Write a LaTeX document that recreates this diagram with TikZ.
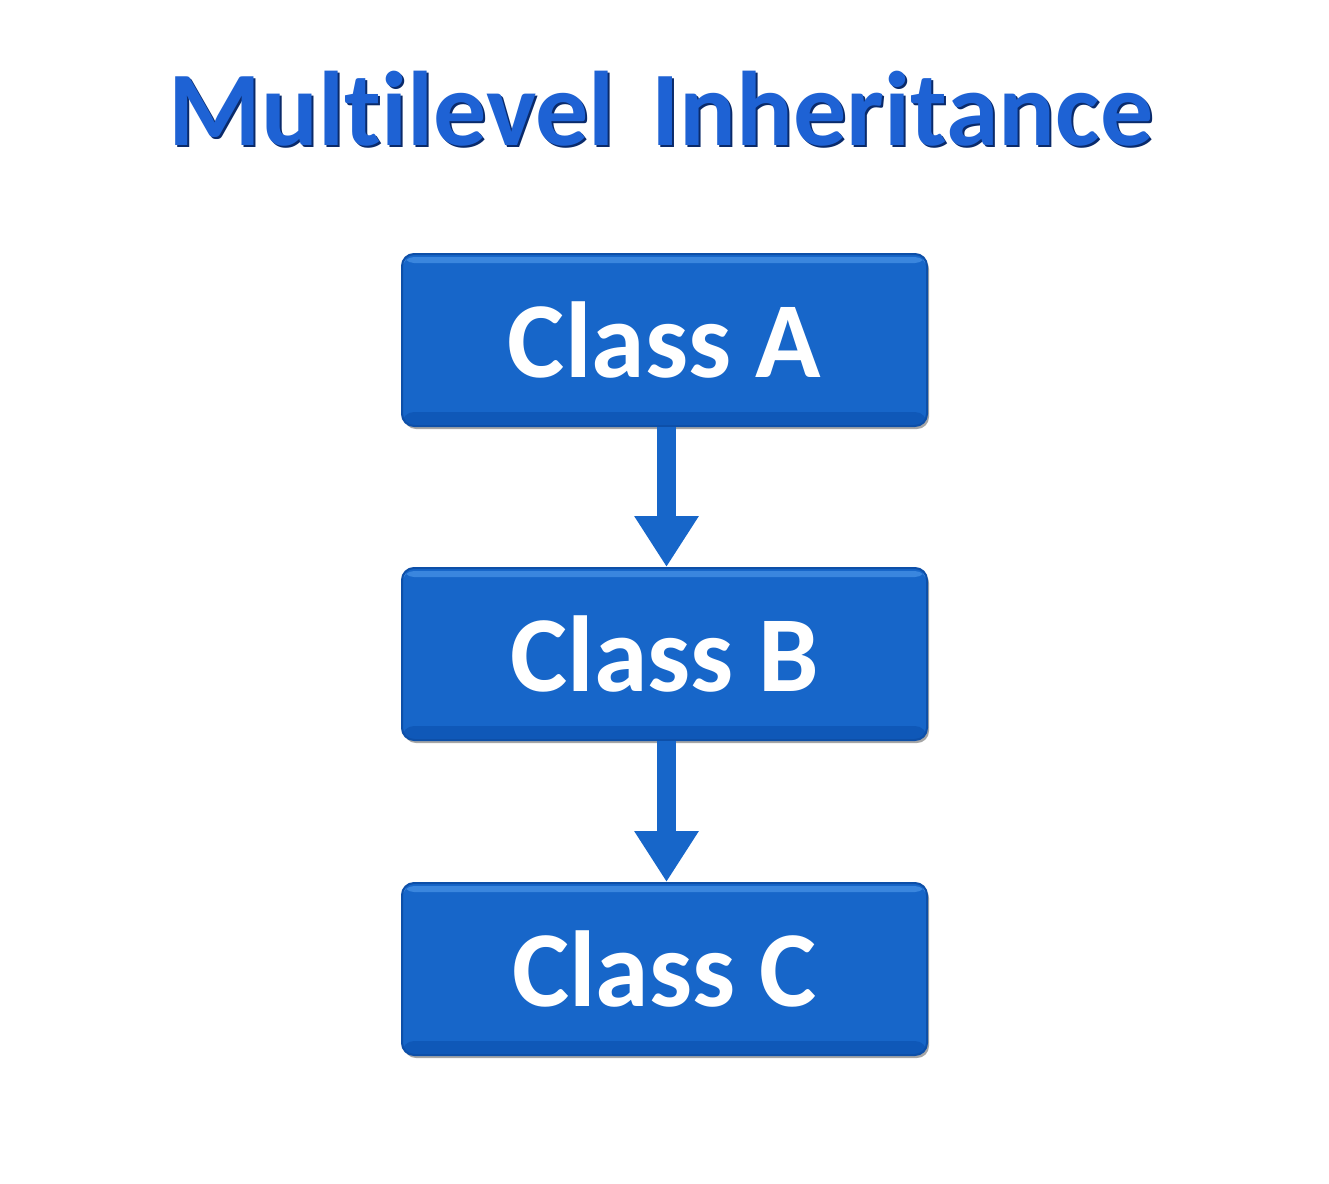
\documentclass[tikz,border=0pt]{standalone}
\usepackage{fontspec}
\setmainfont[Ligatures=NoCommon]{Carlito}
\usetikzlibrary{arrows.meta,shadows}
\definecolor{boxfill}{HTML}{1766C9}
\definecolor{boxdark}{HTML}{0D4FA8}
\definecolor{boxband}{HTML}{0F58B8}
\definecolor{boxlight}{HTML}{3A86DE}
\definecolor{titleblue}{HTML}{1E62D4}
\definecolor{titledark}{HTML}{0A2A6A}
\tikzset{
  classbox/.style={rounded corners=12pt, fill=boxfill, draw=boxdark, line width=2pt,
    minimum width=525pt, minimum height=172pt, inner sep=0pt,
    text=white, font=\fontsize{108}{108}\selectfont\bfseries,
    path picture={
      \fill[boxband] ([yshift=14pt]path picture bounding box.south west) rectangle (path picture bounding box.south east);
      \fill[boxlight] ([yshift=-3pt]path picture bounding box.north west) rectangle ([yshift=-9pt]path picture bounding box.north east);
    },
    drop shadow={shadow xshift=2pt, shadow yshift=-3pt, opacity=0.35, fill=black}},
  inherit/.style={draw=boxfill, line width=19pt,
    -{Triangle[width=61pt,length=51pt]}, fill=boxfill},
  titletext/.style={font=\fontsize{106}{106}\selectfont\bfseries, inner sep=0pt}
}
\begin{document}
\begin{tikzpicture}[x=1pt,y=-1pt]
\useasboundingbox (0,0) rectangle (1329,1183);
\fill[white] (0,0) rectangle (1329,1183);
% title
\node[titletext, text=titledark, anchor=base] (tshadow) at (663,147) {Multilevel\hspace{0.12em} Inheritance};
\node[titletext, text=titleblue, anchor=base] (title) at (661,145) {Multilevel\hspace{0.12em} Inheritance};
% boxes
\node[classbox] (A) at (664.5,340) {Class A};
\node[classbox] (B) at (664.5,654) {Class B};
\node[classbox] (C) at (664.5,969) {Class C};
% connectors
\draw[inherit] ([xshift=2pt]A.south) -- ([xshift=2pt]B.north);
\draw[inherit] ([xshift=2pt]B.south) -- ([xshift=2pt]C.north);
\end{tikzpicture}
\end{document}
